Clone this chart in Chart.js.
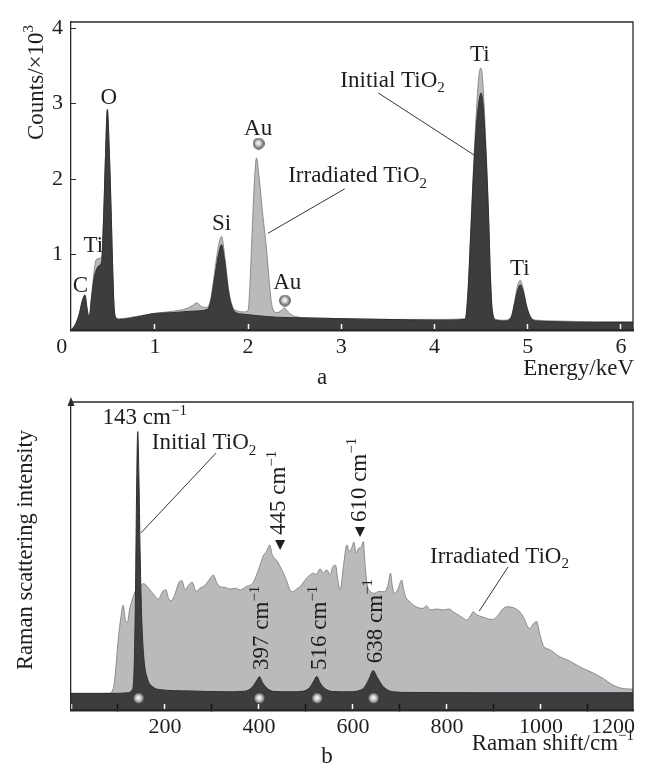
<!DOCTYPE html>
<html>
<head>
<meta charset="utf-8">
<script src="https://cdn.jsdelivr.net/npm/chart.js@4.4.1/dist/chart.umd.min.js"></script>
<style>
html, body { margin: 0; padding: 0; background: #fff; }
#wrap { position: relative; width: 645px; height: 763px; overflow: hidden; }
canvas { position: absolute; left: 0; }
#chart_eds { top: 0; }
#chart_raman { top: 375px; }
</style>
</head>
<body>
<div id="wrap">
<canvas id="chart_eds" width="645" height="395"></canvas>
<canvas id="chart_raman" width="645" height="388"></canvas>
</div>
<script>
// panel a: EDX spectrum (counts x 10^3 vs keV)
const eds_initial_kev = [0.10, 0.15, 0.19, 0.22, 0.25, 0.27, 0.295, 0.32, 0.35, 0.38, 0.41, 0.43, 0.45, 0.47, 0.49, 0.51, 0.53, 0.55, 0.565, 0.59, 0.62, 0.8, 1.0, 1.2, 1.4, 1.56, 1.60, 1.64, 1.68, 1.715, 1.75, 1.79, 1.83, 1.87, 1.95, 2.1, 2.3, 2.6, 3.0, 3.5, 4.0, 4.33, 4.36, 4.39, 4.42, 4.45, 4.48, 4.50, 4.52, 4.55, 4.58, 4.60, 4.62, 4.66, 4.75, 4.82, 4.86, 4.89, 4.92, 4.95, 4.99, 5.04, 5.1, 5.3, 5.7, 6.13];
const eds_initial_counts = [0.0, 0.08, 0.22, 0.38, 0.46, 0.30, 0.16, 0.42, 0.70, 0.82, 0.86, 0.92, 1.5, 2.3, 2.92, 2.4, 1.6, 0.7, 0.25, 0.15, 0.14, 0.17, 0.22, 0.23, 0.25, 0.27, 0.38, 0.68, 0.98, 1.13, 0.9, 0.5, 0.3, 0.23, 0.21, 0.19, 0.17, 0.16, 0.15, 0.14, 0.13, 0.14, 0.5, 1.3, 2.1, 2.7, 3.05, 3.14, 3.0, 2.4, 1.5, 0.7, 0.25, 0.13, 0.12, 0.16, 0.35, 0.52, 0.6, 0.52, 0.3, 0.15, 0.12, 0.11, 0.1, 0.1];
const eds_irradiated_kev = [0.10, 0.15, 0.19, 0.22, 0.25, 0.27, 0.295, 0.32, 0.35, 0.37, 0.41, 0.43, 0.45, 0.47, 0.49, 0.51, 0.53, 0.55, 0.565, 0.59, 0.62, 0.8, 1.0, 1.2, 1.33, 1.40, 1.45, 1.50, 1.56, 1.60, 1.64, 1.68, 1.715, 1.75, 1.79, 1.83, 1.87, 1.95, 2.00, 2.02, 2.04, 2.065, 2.09, 2.12, 2.16, 2.20, 2.23, 2.26, 2.31, 2.36, 2.39, 2.43, 2.5, 2.7, 3.0, 3.5, 4.0, 4.33, 4.36, 4.39, 4.42, 4.45, 4.475, 4.495, 4.515, 4.55, 4.58, 4.60, 4.62, 4.66, 4.75, 4.82, 4.86, 4.89, 4.92, 4.95, 4.99, 5.04, 5.1, 5.3, 5.7, 6.13];
const eds_irradiated_counts = [0.0, 0.08, 0.22, 0.38, 0.47, 0.31, 0.17, 0.45, 0.80, 0.93, 0.95, 0.98, 1.5, 2.3, 2.92, 2.4, 1.6, 0.7, 0.26, 0.16, 0.15, 0.18, 0.22, 0.25, 0.28, 0.32, 0.36, 0.31, 0.30, 0.42, 0.76, 1.1, 1.24, 0.98, 0.55, 0.32, 0.26, 0.24, 0.26, 0.6, 1.2, 1.9, 2.28, 2.0, 1.5, 1.05, 0.6, 0.3, 0.23, 0.26, 0.29, 0.24, 0.18, 0.16, 0.15, 0.14, 0.14, 0.15, 0.55, 1.35, 2.2, 2.9, 3.35, 3.47, 3.35, 2.5, 1.55, 0.75, 0.27, 0.14, 0.13, 0.17, 0.38, 0.58, 0.66, 0.56, 0.32, 0.16, 0.13, 0.12, 0.11, 0.11];
const eds_ball_kev = [2.113, 2.395];
const eds_ball_counts = [2.47, 0.39];
const eds_x_ticks = [0, 1, 2, 3, 4, 5, 6];
const eds_y_ticks = [1, 2, 3, 4];

// panel b: Raman spectrum (arbitrary units 0..100 vs cm^-1)
const raman_initial_shift = [0, 60, 100, 120, 130, 134, 137, 139.5, 142, 144.5, 147, 150, 155, 162, 172, 190, 250, 330, 370, 385, 395, 401, 408, 420, 434, 470, 494, 508, 517, 523, 530, 542, 557, 590, 608, 624, 634, 643, 652, 665, 686, 720, 900, 1100, 1200];
const raman_initial_intensity = [5.4, 5.4, 5.4, 5.6, 6.5, 12, 35, 70, 90.4, 76, 52, 32, 17, 10.5, 7.8, 6.6, 6.2, 5.9, 6.1, 7.3, 9.5, 10.8, 8.8, 6.7, 6.0, 5.9, 6.1, 7.3, 9.5, 10.9, 8.8, 6.8, 6.0, 5.9, 6.1, 7.3, 10, 12.8, 10.5, 7.5, 5.9, 5.7, 5.6, 5.6, 5.6];
const raman_irradiated_shift = [0, 80, 90, 95, 100, 106, 111, 116, 120, 125, 129, 135, 145, 154, 160, 168, 176, 186, 195, 202, 208, 214, 222, 230, 236, 243, 250, 258, 266, 274, 285, 295, 303, 310, 317, 328, 338, 350, 360, 372, 388, 400, 409, 416, 423, 428, 438, 447, 459, 466, 472, 480, 487, 497, 506, 516, 522, 530, 537, 544, 552, 557, 563, 568, 573, 580, 587, 592, 597, 602, 607, 612, 618, 622, 626, 630, 637, 645, 656, 668, 675, 680, 684, 688, 695, 704, 708, 712, 722, 735, 748, 757, 764, 778, 792, 805, 813, 825, 835, 842, 850, 856, 863, 870, 880, 890, 898, 910, 920, 930, 942, 955, 965, 972, 977, 984, 991, 997, 1005, 1020, 1040, 1060, 1083, 1100, 1119, 1135, 1147, 1160, 1175, 1190, 1200];
const raman_irradiated_intensity = [5.2, 5.4, 7, 13, 22, 30, 34, 29, 28.5, 33, 35, 38, 40, 41, 40.5, 39, 37.5, 36, 38.5, 39, 36, 35.5, 38, 41.5, 42, 39, 40.5, 41.5, 38.5, 39.5, 40.5, 42.5, 43.8, 41.5, 40, 39.8, 39.3, 39.5, 39, 40, 41.5, 46, 50, 51.5, 53.6, 50.5, 48.5, 46, 42, 39, 38.4, 39.3, 40, 42, 43.5, 44.4, 44, 45.8, 44.5, 45.5, 44, 46.5, 47, 42, 39, 47, 53.6, 51.5, 52.5, 54.5, 51, 52.5, 53, 54.7, 47, 41, 38.5, 37.9, 38.5, 38.4, 41, 44.4, 40, 37.9, 39, 42.2, 39, 36.8, 35, 33.5, 33, 33.8, 32.5, 32.8, 32.5, 32.8, 31.9, 30.8, 29.8, 29.2, 30.5, 31.9, 31, 30.5, 30, 29.5, 29.4, 31, 33, 33.5, 33.2, 31.9, 29.5, 27, 26.5, 28, 28.7, 25, 21, 19.5, 17.3, 16, 14, 12.8, 11.4, 10, 8.7, 7.6, 7, 6.8, 6.8];
const raman_ball_shift = [144, 401, 524, 644];
const raman_ball_intensity = [3.8, 3.8, 3.8, 3.8];
const raman_x_ticks = [0, 100, 200, 300, 400, 500, 600, 700, 800, 900, 1000, 1100, 1200];
const raman_x_labels = ['', '', '200', '', '400', '', '600', '', '800', '', '1000', '', '1200'];

const style = {
    dark_fill: '#3b3d3f',
    dark_line: '#2c2e30',
    light_fill: '#b9babc',
    light_line: '#787878',
    axis: '#2a2a2a',
    text: '#1e1e1e',
    font: '"Liberation Serif", "Times New Roman", serif',
};

function to_points(xs, ys) {
    return xs.map((x, i) => ({ x: x, y: ys[i] }));
}

function make_ball(d) {
    const c = document.createElement('canvas');
    c.width = d;
    c.height = d;
    const g = c.getContext('2d');
    const r = d / 2;
    const grad = g.createRadialGradient(r * 0.95, r * 0.9, r * 0.05, r, r, r);
    grad.addColorStop(0, '#ffffff');
    grad.addColorStop(0.35, '#d2d2d2');
    grad.addColorStop(0.72, '#8a8a8a');
    grad.addColorStop(0.88, '#464646');
    grad.addColorStop(1, '#1e1e1e');
    g.fillStyle = grad;
    g.beginPath();
    g.arc(r, r, r - 0.2, 0, Math.PI * 2);
    g.fill();
    return c;
}

// text with sub/superscript parts: [[text, ''|'sub'|'sup'], ...]
function draw_rich(ctx, parts, x, y, align, rotated, size) {
    const small = Math.round(size * 0.66);
    const widths = parts.map(([t, k]) => {
        ctx.font = (k ? small : size) + 'px ' + style.font;
        return ctx.measureText(t).width;
    });
    const total = widths.reduce((a, b) => a + b, 0);
    ctx.save();
    ctx.translate(x, y);
    if (rotated) {
        ctx.rotate(-Math.PI / 2);
    }
    let cx = align === 'center' ? -total / 2 : align === 'right' ? -total : 0;
    ctx.textAlign = 'left';
    ctx.textBaseline = 'alphabetic';
    ctx.fillStyle = style.text;
    parts.forEach(([t, k], i) => {
        ctx.font = (k ? small : size) + 'px ' + style.font;
        let dy = size * 0.33;
        if (k === 'sub') dy += size * 0.24;
        if (k === 'sup') dy -= size * 0.4;
        ctx.fillText(t, cx, dy);
        cx += widths[i];
    });
    ctx.restore();
}

const notes_plugin = {
    id: 'notes',
    afterDraw(chart, args, opts) {
        const ctx = chart.ctx;
        const area = chart.chartArea;
        const xs = chart.scales.x;
        const ys = chart.scales.y;
        const px = (v) => xs.getPixelForValue(v);
        const py = (v) => ys.getPixelForValue(v);

        // top and right frame lines
        ctx.save();
        ctx.strokeStyle = style.axis;
        ctx.lineWidth = 1.3;
        ctx.beginPath();
        ctx.moveTo(area.left, area.top);
        ctx.lineTo(area.right, area.top);
        ctx.lineTo(area.right, area.bottom);
        ctx.stroke();
        if (opts.arrow) {
            ctx.fillStyle = style.axis;
            ctx.beginPath();
            ctx.moveTo(area.left, area.top - 5);
            ctx.lineTo(area.left - 3.5, area.top + 4);
            ctx.lineTo(area.left + 3.5, area.top + 4);
            ctx.closePath();
            ctx.fill();
        }
        ctx.restore();

        (opts.items || []).forEach((n) => {
            if (n.kind === 'line') {
                ctx.save();
                ctx.strokeStyle = style.text;
                ctx.lineWidth = 0.9;
                ctx.beginPath();
                ctx.moveTo(px(n.x1), py(n.y1));
                ctx.lineTo(px(n.x2), py(n.y2));
                ctx.stroke();
                ctx.restore();
            } else if (n.kind === 'tri') {
                const x = px(n.x);
                const y = py(n.y);
                ctx.save();
                ctx.fillStyle = style.text;
                ctx.beginPath();
                ctx.moveTo(x - 5, y - 5);
                ctx.lineTo(x + 5, y - 5);
                ctx.lineTo(x, y + 5);
                ctx.closePath();
                ctx.fill();
                ctx.restore();
            } else if (n.kind === 'text') {
                draw_rich(ctx, n.parts, px(n.x), py(n.y), n.align || 'center', !!n.rotated, n.size || 23);
            } else if (n.kind === 'ptext') {
                const x = n.from === 'right' ? area.right + n.dx : n.dx;
                const y = n.from === 'right' ? area.bottom + n.dy : n.dy;
                draw_rich(ctx, n.parts, x, y, n.align || 'center', !!n.rotated, n.size || 23);
            }
        });
    },
};

function fixed_x_fit(height) {
    return (s) => {
        s.height = height;
        s.paddingLeft = 0;
        s.paddingRight = 0;
    };
}

function fixed_y_fit(width) {
    return (s) => {
        s.width = width;
        s.paddingTop = 0;
        s.paddingBottom = 0;
    };
}

function spectrum_datasets(ball_pts, dark_pts, light_pts) {
    return [
        {
            type: 'scatter',
            data: ball_pts,
            pointStyle: make_ball(12),
            pointRadius: 6,
            pointBorderWidth: 0,
            showLine: false,
        },
        {
            data: dark_pts,
            borderColor: style.dark_line,
            borderWidth: 1,
            backgroundColor: style.dark_fill,
            fill: 'origin',
            pointRadius: 0,
            cubicInterpolationMode: 'monotone',
        },
        {
            data: light_pts,
            borderColor: style.light_line,
            borderWidth: 0.8,
            backgroundColor: style.light_fill,
            fill: 'origin',
            pointRadius: 0,
            cubicInterpolationMode: 'monotone',
        },
    ];
}

const tick_font = { family: style.font, size: 22 };

const rm1 = [['cm', ''], ['\u22121', 'sup']];

new Chart(document.getElementById('chart_eds'), {
    type: 'line',
    data: {
        datasets: spectrum_datasets(
            to_points(eds_ball_kev, eds_ball_counts),
            to_points(eds_initial_kev, eds_initial_counts),
            to_points(eds_irradiated_kev, eds_irradiated_counts)
        ),
    },
    options: {
        responsive: false,
        animation: false,
        devicePixelRatio: 1,
        layout: { padding: { left: 0, top: 22, right: 12, bottom: 0 } },
        plugins: {
            legend: { display: false },
            tooltip: { enabled: false },
            notes: {
                items: [
                    { kind: 'text', parts: [['C', '']], x: 0.2, y: 0.6 },
                    { kind: 'text', parts: [['Ti', '']], x: 0.34, y: 1.14 },
                    { kind: 'text', parts: [['O', '']], x: 0.506, y: 3.1 },
                    { kind: 'text', parts: [['Si', '']], x: 1.716, y: 1.42 },
                    { kind: 'text', parts: [['Au', '']], x: 2.108, y: 2.69 },
                    { kind: 'text', parts: [['Au', '']], x: 2.42, y: 0.64 },
                    { kind: 'text', parts: [['Ti', '']], x: 4.487, y: 3.67 },
                    { kind: 'text', parts: [['Ti', '']], x: 4.916, y: 0.83 },
                    { kind: 'text', parts: [['Irradiated TiO', ''], ['2', 'sub']], x: 2.43, y: 2.06, align: 'left' },
                    { kind: 'line', x1: 2.212, y1: 1.28, x2: 3.037, y2: 1.87 },
                    { kind: 'text', parts: [['Initial TiO', ''], ['2', 'sub']], x: 2.99, y: 3.32, align: 'left' },
                    { kind: 'line', x1: 3.396, y1: 3.14, x2: 4.423, y2: 2.32 },
                    { kind: 'ptext', parts: [['Energy', ''], ['/', ''], ['keV', '']], from: 'right', dx: 1, dy: 37.5, align: 'right' },
                    { kind: 'ptext', parts: [['a', '']], dx: 322, dy: 376 },
                    { kind: 'ptext', parts: [['Counts/\u00d710', ''], ['3', 'sup']], dx: 35, dy: 140, align: 'left', rotated: true },
                ],
            },
        },
        scales: {
            x: {
                type: 'linear',
                min: 0.1,
                max: 6.13,
                afterBuildTicks: (s) => { s.ticks = eds_x_ticks.map((v) => ({ value: v })); },
                afterFit: fixed_x_fit(65),
                ticks: { font: tick_font, color: style.text, padding: 10, maxRotation: 0, autoSkip: false },
                grid: { drawOnChartArea: false, drawTicks: true, tickLength: -6, tickColor: '#ffffff', tickWidth: 1.5, z: 1 },
                border: { display: true, color: style.axis, width: 2.5, z: 1 },
            },
            y: {
                type: 'linear',
                min: 0,
                max: 4.08,
                afterBuildTicks: (s) => { s.ticks = eds_y_ticks.map((v) => ({ value: v })); },
                afterFit: fixed_y_fit(71),
                ticks: { font: tick_font, color: style.text, padding: 13 },
                grid: { drawOnChartArea: false, drawTicks: true, tickLength: -5, tickColor: style.axis, tickWidth: 1, z: 1 },
                border: { display: true, color: style.axis, width: 1.3, z: 1 },
            },
        },
    },
    plugins: [notes_plugin],
});

new Chart(document.getElementById('chart_raman'), {
    type: 'line',
    data: {
        datasets: spectrum_datasets(
            to_points(raman_ball_shift, raman_ball_intensity),
            to_points(raman_initial_shift, raman_initial_intensity),
            to_points(raman_irradiated_shift, raman_irradiated_intensity)
        ),
    },
    options: {
        responsive: false,
        animation: false,
        devicePixelRatio: 1,
        layout: { padding: { left: 0, top: 27, right: 12, bottom: 0 } },
        plugins: {
            legend: { display: false },
            tooltip: { enabled: false },
            notes: {
                arrow: true,
                items: [
                    { kind: 'text', parts: [['143 ', '']].concat(rm1), x: 157, y: 95.4 },
                    { kind: 'text', parts: [['Initial TiO', ''], ['2', 'sub']], x: 172, y: 87.2, align: 'left' },
                    { kind: 'line', x1: 308.5, y1: 83.4, x2: 149, y2: 57.5 },
                    { kind: 'text', parts: [['445 ', '']].concat(rm1), x: 440, y: 56.8, align: 'left', rotated: true },
                    { kind: 'tri', x: 445, y: 53.6 },
                    { kind: 'text', parts: [['610 ', '']].concat(rm1), x: 610.6, y: 61, align: 'left', rotated: true },
                    { kind: 'tri', x: 615, y: 57.8 },
                    { kind: 'text', parts: [['397 ', '']].concat(rm1), x: 403, y: 13, align: 'left', rotated: true },
                    { kind: 'text', parts: [['516 ', '']].concat(rm1), x: 526.6, y: 13, align: 'left', rotated: true },
                    { kind: 'text', parts: [['638 ', '']].concat(rm1), x: 644.7, y: 15.2, align: 'left', rotated: true },
                    { kind: 'text', parts: [['Irradiated TiO', ''], ['2', 'sub']], x: 764, y: 50.3, align: 'left' },
                    { kind: 'line', x1: 930.4, y1: 46.5, x2: 868.7, y2: 32.1 },
                    { kind: 'ptext', parts: [['Raman shift', ''], ['/', '']].concat(rm1), from: 'right', dx: 1, dy: 32, align: 'right' },
                    { kind: 'ptext', parts: [['b', '']], dx: 327, dy: 380 },
                    { kind: 'ptext', parts: [['Raman scattering intensity', '']], dx: 25, dy: 175, rotated: true, size: 22.5 },
                ],
            },
        },
        scales: {
            x: {
                type: 'linear',
                min: 0,
                max: 1196,
                afterBuildTicks: (s) => { s.ticks = raman_x_ticks.map((v) => ({ value: v })); },
                afterFit: fixed_x_fit(53),
                ticks: {
                    font: tick_font,
                    color: style.text,
                    padding: 10,
                    maxRotation: 0,
                    autoSkip: false,
                    align: 'inner',
                    callback: (v, i) => raman_x_labels[i],
                },
                grid: {
                    drawOnChartArea: false,
                    drawTicks: true,
                    tickLength: -6,
                    tickWidth: 1.5,
                    tickColor: (c) => (c.tick && c.tick.value % 200 === 0 ? '#ffffff' : '#111111'),
                    z: 1,
                },
                border: { display: true, color: style.axis, width: 2.5, z: 1 },
            },
            y: {
                type: 'linear',
                min: 0,
                max: 100,
                afterFit: fixed_y_fit(71),
                ticks: { display: false },
                grid: { display: false },
                border: { display: true, color: style.axis, width: 1.3, z: 1 },
            },
        },
    },
    plugins: [notes_plugin],
});
</script>
</body>
</html>
